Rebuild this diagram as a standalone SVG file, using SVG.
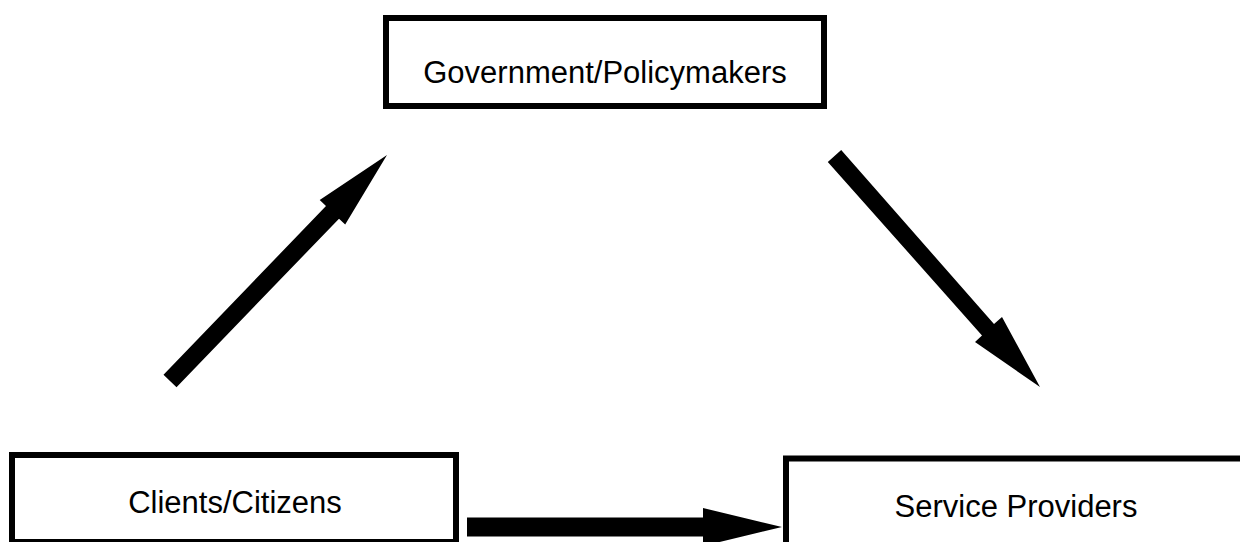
<svg xmlns="http://www.w3.org/2000/svg" width="1240" height="542" viewBox="0 0 1240 542">
  <style>
    .box { fill: #ffffff; stroke: #000000; stroke-width: 6; }
    .label { font-family: "Liberation Sans", Arial, sans-serif; font-size: 31px; fill: #000000; text-anchor: middle; }
    .arrow { fill: #000000; stroke: none; }
  </style>
  <rect width="1240" height="542" fill="#ffffff"/>
  <g id="government">
    <rect class="box" x="386" y="18" width="438" height="88"/>
    <text class="label" x="605" y="83">Government/Policymakers</text>
  </g>
  <g id="clients">
    <rect class="box" x="12" y="455" width="444" height="87"/>
    <text class="label" x="235" y="513">Clients/Citizens</text>
  </g>
  <g id="providers">
    <rect class="box" x="786" y="458.5" width="470" height="100"/>
    <text class="label" x="1016" y="517">Service Providers</text>
  </g>
  <g id="connectors">
    <polygon class="arrow" points="176.5,387.2 163.5,374.8 326,206 319.7,199.9 387,155 345.2,224.5 339,218.7"/>
    <polygon class="arrow" points="827.8,162 841.2,150 994,324 1002,317 1040,387 975,342 982,335.4"/>
    <polygon class="arrow" points="467,517.5 703,517.5 703,508 782,527 703,546 703,536.5 467,536.5"/>
  </g>
</svg>
